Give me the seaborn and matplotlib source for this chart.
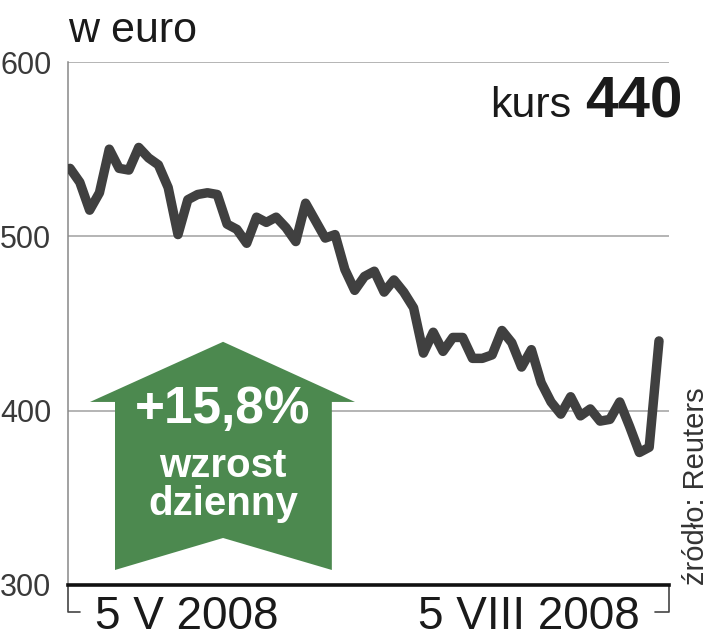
import seaborn as sns
import matplotlib.pyplot as plt
import pandas as pd
from matplotlib.patches import Polygon
from matplotlib.lines import Line2D

# kurs w euro, notowania od 5 V 2008 (odczyt z wykresu)
kurs = [539, 531, 515, 525, 550, 539, 538, 551, 545, 541,
        528, 501, 521, 524, 525, 524, 507, 504, 496, 511,
        508, 511, 505, 497, 519, 509, 499, 501, 481, 469,
        477, 480, 468, 475, 468, 459, 433, 445, 434, 442,
        442, 430, 430, 432, 446, 439, 425, 435, 416, 405,
        398, 408, 397, 401, 394, 395, 405, 391, 376, 379,
        440]
y_ticks = [300, 400, 500, 600]
date_labels = ["5 V 2008", "5 VIII 2008"]
kurs_label = "440"
zmiana = "+15,8%"

df = pd.DataFrame({"dzien": range(len(kurs)), "kurs": kurs})

sns.set_theme(style="white")
plt.rcParams["font.family"] = ["Liberation Sans", "DejaVu Sans"]

fig = plt.figure(figsize=(7.13, 6.4), dpi=100)
ax = fig.add_axes([68 / 713, 55 / 640, 601 / 713, 523 / 640])

for v in y_ticks[1:]:
    ax.axhline(v, color="#a0a0a0", lw=1.1, zorder=1)

sns.lineplot(data=df, x="dzien", y="kurs", ax=ax, color="#404040",
             lw=6.8, zorder=4, solid_capstyle="round", solid_joinstyle="round")

n = len(kurs)
step = 589 / (n - 1)
ax.set_xlim(-2 / step, n - 1 + 10 / step)
ax.set_ylim(300, 600)
ax.set_xticks([])
ax.set_yticks(y_ticks)
ax.set_yticklabels([str(v) for v in y_ticks], color="#3a3a3a", fontsize=22)
ax.tick_params(axis="y", length=0, pad=12)
ax.set_xlabel("")
ax.set_ylabel("")

for s in ["top", "right"]:
    ax.spines[s].set_visible(False)
ax.spines["left"].set_color("#888888")
ax.spines["left"].set_linewidth(1.1)
ax.spines["bottom"].set_color("#111111")
ax.spines["bottom"].set_linewidth(2.6)
ax.spines["bottom"].set_zorder(5)

# nawiasy pod osią
bh = -27 / 523
for xs in ([0, 0, 12 / 601], [1, 1, 1 - 14 / 601]):
    ax.add_line(Line2D(xs, [0, bh, bh], transform=ax.transAxes,
                       color="#444444", lw=1.2, clip_on=False))

ax.text(27 / 601, -10 / 523, date_labels[0], transform=ax.transAxes,
        ha="left", va="top", fontsize=33, color="#1a1a1a")
ax.text(572 / 601, -10 / 523, date_labels[1], transform=ax.transAxes,
        ha="right", va="top", fontsize=33, color="#1a1a1a")

# zielona strzałka
arrow = [(0.0366, 0.350), (0.258, 0.465), (0.4775, 0.350), (0.439, 0.350),
         (0.439, 0.0287), (0.258, 0.0899), (0.0782, 0.0287), (0.0782, 0.350)]
ax.add_patch(Polygon(arrow, closed=True, transform=ax.transAxes,
                     facecolor="#4c894f", edgecolor="none", zorder=3))
ax.text(0.258, 0.31, zmiana, transform=ax.transAxes, ha="center",
        va="baseline", fontsize=37, fontweight="bold", color="white", zorder=6)
ax.text(0.258, 0.2065, "wzrost", transform=ax.transAxes, ha="center",
        va="baseline", fontsize=29, fontweight="bold", color="white", zorder=6)
ax.text(0.258, 0.134, "dzienny", transform=ax.transAxes, ha="center",
        va="baseline", fontsize=29, fontweight="bold", color="white", zorder=6)

fig.text(68 / 713, 1 - 42 / 640, "w euro", ha="left", va="baseline",
         fontsize=31, color="#1a1a1a")
fig.text(683 / 713, 1 - 117 / 640, kurs_label, ha="right", va="baseline",
         fontsize=42, fontweight="bold", color="#1a1a1a")
fig.text(571 / 713, 1 - 117 / 640, "kurs", ha="right", va="baseline",
         fontsize=31, color="#1a1a1a")
fig.text(696 / 713, 1 - 486 / 640, "źródło: Reuters", rotation=90,
         ha="center", va="center", fontsize=21, color="#333333")

fig.savefig("out.png", dpi=100)
